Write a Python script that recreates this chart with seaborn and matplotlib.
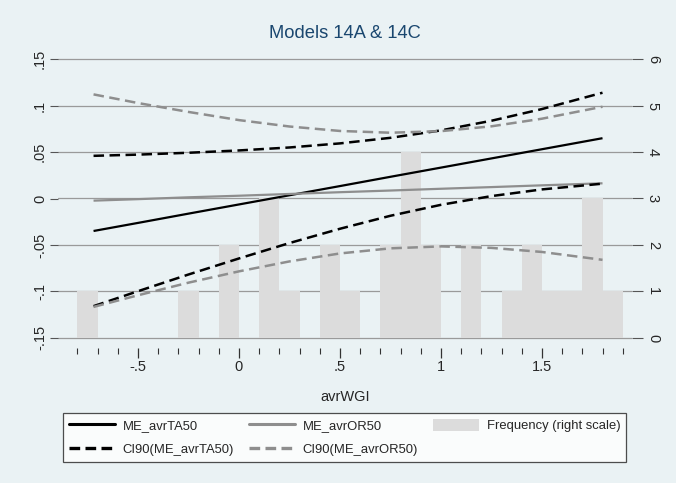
import matplotlib
matplotlib.use("Agg")
import matplotlib.pyplot as plt
from matplotlib.lines import Line2D
from matplotlib.patches import Patch
from matplotlib.ticker import FixedLocator
import seaborn as sns

# Marginal effects evaluated along avrWGI
wgi = [-0.72, -0.5, -0.25, 0.0, 0.25, 0.5, 0.75, 1.0, 1.25, 1.5, 1.8]
me_ta = [-0.0350, -0.0263, -0.0163, -0.0064, 0.0035, 0.0134, 0.0234, 0.0333, 0.0432, 0.0531, 0.0650]
ci_ta_hi = [0.0460, 0.0473, 0.0493, 0.0518, 0.0550, 0.0594, 0.0654, 0.0734, 0.0838, 0.0964, 0.1140]
ci_ta_lo = [-0.1160, -0.0999, -0.0819, -0.0646, -0.0480, -0.0326, -0.0186, -0.0068, 0.0026, 0.0098, 0.0160]
me_or = [-0.0023, -0.0007, 0.0013, 0.0030, 0.0049, 0.0068, 0.0086, 0.0105, 0.0123, 0.0142, 0.0164]
ci_or_hi = [0.1122, 0.1029, 0.0933, 0.0845, 0.0776, 0.0728, 0.0709, 0.0726, 0.0778, 0.0860, 0.0989]
ci_or_lo = [-0.1168, -0.1043, -0.0907, -0.0785, -0.0678, -0.0592, -0.0537, -0.0516, -0.0532, -0.0576, -0.0661]

# Frequency of avrWGI, bins of width 0.1 starting at -0.8
bin_edges = [round(-0.8 + 0.1 * i, 2) for i in range(28)]
bin_counts = [1, 0, 0, 0, 0, 1, 0, 2, 0, 3, 1, 0, 2, 1, 0, 2, 4, 2, 0, 2, 0, 1, 2, 1, 1, 3, 1]

left_ticks = [-0.15, -0.1, -0.05, 0.0, 0.05, 0.1, 0.15]
left_labels = ["-.15", "-.1", "-.05", "0", ".05", ".1", ".15"]
right_ticks = [0, 1, 2, 3, 4, 5, 6]
x_ticks = [-0.5, 0.0, 0.5, 1.0, 1.5]
x_labels = ["-.5", "0", ".5", "1", "1.5"]

sns.set_style("white")
plt.rcParams["font.family"] = ["Liberation Sans", "DejaVu Sans"]

BG = "#eaf2f4"
GREY = "#8e8e8e"
BAR = "#dcdcdc"
GRID = "#9a9a9a"

fig = plt.figure(figsize=(6.76, 4.83), dpi=100, facecolor=BG)
ax = fig.add_axes([58 / 676, 1 - 348 / 483, (632 - 58) / 676, 300 / 483])
ax2 = ax.twinx()

# histogram on the right-hand scale, drawn underneath the effect lines
centers = [(bin_edges[i] + bin_edges[i + 1]) / 2 for i in range(len(bin_counts))]
sns.histplot(x=centers, weights=bin_counts, bins=bin_edges, ax=ax2,
             color=BAR, edgecolor="none", linewidth=0, alpha=1.0, zorder=2)
ax2.set_ylim(-0.222, 6.243)
ax2.yaxis.set_major_locator(FixedLocator(right_ticks))
ax2.set_yticklabels([str(t) for t in right_ticks])
ax2.grid(axis="y", color=GRID, linewidth=0.9, zorder=0)
ax2.grid(axis="x", visible=False)
ax2.set_axisbelow(True)
ax2.set_ylabel("")
ax2.patch.set_facecolor("white")
ax2.set_zorder(1)
ax.set_zorder(2)
ax.patch.set_visible(False)

ax.set_xlim(-0.896, 1.946)
ax.set_ylim(-0.1611, 0.1622)

solid = (0, ())
dashed = (0, (4.2, 2.2))
series = [
    (me_ta, "black", solid, 1.6),
    (me_or, GREY, solid, 1.6),
    (ci_ta_hi, "black", dashed, 1.8),
    (ci_ta_lo, "black", dashed, 1.8),
    (ci_or_hi, GREY, dashed, 1.8),
    (ci_or_lo, GREY, dashed, 1.8),
]
for vals, col, ls, lw in series:
    sns.lineplot(x=wgi, y=vals, ax=ax, color=col, linestyle=ls, linewidth=lw,
                 errorbar=None, legend=False)

ax.yaxis.set_major_locator(FixedLocator(left_ticks))
ax.set_yticklabels(left_labels)
ax.xaxis.set_major_locator(FixedLocator(x_ticks))
ax.set_xticklabels(x_labels)
ax.xaxis.set_minor_locator(FixedLocator([round(-0.8 + 0.1 * i, 2) for i in range(28)]))
ax.grid(False)

for a in (ax, ax2):
    for s in a.spines.values():
        s.set_visible(False)

ax.tick_params(axis="y", which="major", direction="out", length=6, width=0.8,
               color="#555555", labelsize=10.5, pad=2, labelrotation=90, left=True)
for lab in ax.get_yticklabels():
    lab.set_verticalalignment("center")
ax2.tick_params(axis="y", which="major", direction="out", length=8, width=0.8,
                color="#555555", labelsize=10.5, pad=2, labelrotation=-90, right=True)
for lab in ax2.get_yticklabels():
    lab.set_verticalalignment("center")
ax.tick_params(axis="x", which="major", direction="out", length=7, width=0.9,
               color="#333333", labelsize=10.5, pad=1.5, bottom=True)
ax.tick_params(axis="x", which="minor", direction="out", length=4, width=0.8,
               color="#333333", bottom=True)
ax2.tick_params(axis="x", which="both", bottom=False, labelbottom=False)

ax.set_xlabel("avrWGI", fontsize=10.5, labelpad=12)
ax.set_ylabel("")
fig.text(345 / 676, 1 - 33 / 483, "Models 14A & 14C", ha="center", va="center",
         fontsize=13.2, color="#1a476f")

handles = [
    Line2D([], [], color="black", linewidth=2.2),
    Line2D([], [], color="black", linewidth=2.4, linestyle=(0, (3.2, 1.6))),
    Line2D([], [], color=GREY, linewidth=2.2),
    Line2D([], [], color=GREY, linewidth=2.4, linestyle=(0, (3.2, 1.6))),
    Patch(facecolor=BAR, edgecolor="none"),
]
labels = ["ME_avrTA50", "CI90(ME_avrTA50)", "ME_avrOR50", "CI90(ME_avrOR50)",
          "Frequency (right scale)"]
leg = fig.legend(handles, labels, ncol=3, loc="center",
                 bbox_to_anchor=(63 / 676, 1 - 464 / 483, (626 - 63) / 676, 53 / 483),
                 mode="expand", frameon=True, fancybox=False, fontsize=9.4,
                 handlelength=3.5, handleheight=1.0, columnspacing=1.0,
                 labelspacing=0.8, borderaxespad=0, borderpad=0.45,
                 handletextpad=0.6)
leg.get_frame().set_edgecolor("#222222")
leg.get_frame().set_linewidth(0.9)
leg.get_frame().set_facecolor("white")

fig.savefig("out.png", dpi=100, facecolor=BG)
